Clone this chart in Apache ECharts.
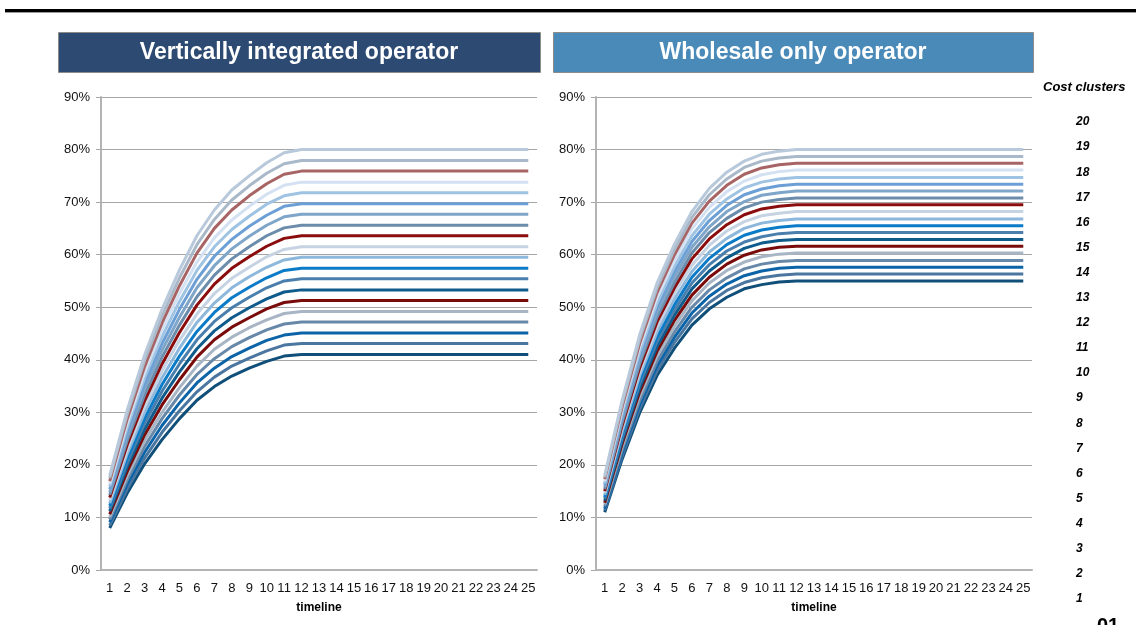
<!DOCTYPE html>
<html>
<head>
<meta charset="utf-8">
<script src="https://cdn.jsdelivr.net/npm/echarts@6/dist/echarts.min.js"></script>
<style>
  html, body { margin: 0; padding: 0; background: #fff; }
  #chart { width: 1136px; height: 625px; }
</style>
</head>
<body>
<div id="chart"></div>
<script>
// timeline categories and legend labels
const timeline = ['1','2','3','4','5','6','7','8','9','10','11','12','13','14','15','16','17','18','19','20','21','22','23','24','25'];
const clusterNames = ['20','19','18','17','16','15','14','13','12','11','10','9','8','7','6','5','4','3','2','1'];

// Vertically integrated operator, cost clusters 1..20 (%)
const vi1  = [8.0,14.6,20.2,24.8,28.8,32.3,34.9,36.9,38.4,39.7,40.7,41.0,41.0,41.0,41.0,41.0,41.0,41.0,41.0,41.0,41.0,41.0,41.0,41.0,41.0];
const vi2  = [8.5,15.4,21.3,26.2,30.3,33.9,36.7,38.8,40.3,41.7,42.8,43.1,43.1,43.1,43.1,43.1,43.1,43.1,43.1,43.1,43.1,43.1,43.1,43.1,43.1];
const vi3  = [9.1,16.3,22.4,27.5,31.8,35.6,38.4,40.6,42.2,43.7,44.7,45.1,45.1,45.1,45.1,45.1,45.1,45.1,45.1,45.1,45.1,45.1,45.1,45.1,45.1];
const vi4  = [9.6,17.1,23.5,28.8,33.3,37.2,40.2,42.5,44.2,45.7,46.8,47.2,47.2,47.2,47.2,47.2,47.2,47.2,47.2,47.2,47.2,47.2,47.2,47.2,47.2];
const vi5  = [10.1,17.9,24.6,30.0,34.7,38.8,42.0,44.3,46.1,47.6,48.8,49.2,49.2,49.2,49.2,49.2,49.2,49.2,49.2,49.2,49.2,49.2,49.2,49.2,49.2];
const vi6  = [10.6,18.7,25.7,31.4,36.2,40.5,43.8,46.2,48.0,49.7,50.9,51.3,51.3,51.3,51.3,51.3,51.3,51.3,51.3,51.3,51.3,51.3,51.3,51.3,51.3];
const vi7  = [11.2,19.6,26.8,32.7,37.7,42.1,45.5,48.0,49.9,51.6,52.9,53.3,53.3,53.3,53.3,53.3,53.3,53.3,53.3,53.3,53.3,53.3,53.3,53.3,53.3];
const vi8  = [11.7,20.4,27.9,34.0,39.2,43.8,47.3,49.9,51.9,53.7,55.0,55.4,55.4,55.4,55.4,55.4,55.4,55.4,55.4,55.4,55.4,55.4,55.4,55.4,55.4];
const vi9  = [12.2,21.2,28.9,35.3,40.7,45.4,49.0,51.8,53.8,55.6,57.0,57.4,57.4,57.4,57.4,57.4,57.4,57.4,57.4,57.4,57.4,57.4,57.4,57.4,57.4];
const vi10 = [12.7,22.1,30.0,36.6,42.2,47.1,50.8,53.7,55.8,57.6,59.0,59.5,59.5,59.5,59.5,59.5,59.5,59.5,59.5,59.5,59.5,59.5,59.5,59.5,59.5];
const vi11 = [13.3,22.9,31.1,37.9,43.7,48.7,52.6,55.5,57.6,59.6,61.0,61.5,61.5,61.5,61.5,61.5,61.5,61.5,61.5,61.5,61.5,61.5,61.5,61.5,61.5];
const vi12 = [13.8,23.8,32.2,39.2,45.2,50.4,54.4,57.4,59.6,61.6,63.1,63.6,63.6,63.6,63.6,63.6,63.6,63.6,63.6,63.6,63.6,63.6,63.6,63.6,63.6];
const vi13 = [14.3,24.6,33.3,40.5,46.6,52.0,56.1,59.2,61.5,63.6,65.1,65.6,65.6,65.6,65.6,65.6,65.6,65.6,65.6,65.6,65.6,65.6,65.6,65.6,65.6];
const vi14 = [14.8,25.4,34.4,41.8,48.1,53.7,57.9,61.1,63.5,65.6,67.2,67.7,67.7,67.7,67.7,67.7,67.7,67.7,67.7,67.7,67.7,67.7,67.7,67.7,67.7];
const vi15 = [15.4,26.3,35.5,43.1,49.6,55.3,59.7,62.9,65.4,67.5,69.2,69.7,69.7,69.7,69.7,69.7,69.7,69.7,69.7,69.7,69.7,69.7,69.7,69.7,69.7];
const vi16 = [15.9,27.1,36.6,44.4,51.1,57.0,61.5,64.8,67.3,69.6,71.2,71.8,71.8,71.8,71.8,71.8,71.8,71.8,71.8,71.8,71.8,71.8,71.8,71.8,71.8];
const vi17 = [16.4,27.9,37.6,45.7,52.6,58.6,63.2,66.6,69.2,71.5,73.2,73.8,73.8,73.8,73.8,73.8,73.8,73.8,73.8,73.8,73.8,73.8,73.8,73.8,73.8];
const vi18 = [16.9,28.7,38.7,47.0,54.1,60.3,65.0,68.5,71.2,73.5,75.3,75.9,75.9,75.9,75.9,75.9,75.9,75.9,75.9,75.9,75.9,75.9,75.9,75.9,75.9];
const vi19 = [17.5,29.6,39.9,48.3,55.6,61.9,66.7,70.4,73.1,75.5,77.3,77.9,77.9,77.9,77.9,77.9,77.9,77.9,77.9,77.9,77.9,77.9,77.9,77.9,77.9];
const vi20 = [18.0,30.4,40.9,49.6,57.1,63.6,68.5,72.3,75.0,77.5,79.4,80.0,80.0,80.0,80.0,80.0,80.0,80.0,80.0,80.0,80.0,80.0,80.0,80.0,80.0];

// Wholesale only operator, cost clusters 1..20 (%)
const wo1  = [11.0,21.1,29.9,37.0,42.2,46.6,49.7,51.9,53.5,54.3,54.8,55.0,55.0,55.0,55.0,55.0,55.0,55.0,55.0,55.0,55.0,55.0,55.0,55.0,55.0];
const wo2  = [11.4,21.7,30.7,37.9,43.3,47.8,50.9,53.2,54.7,55.6,56.1,56.3,56.3,56.3,56.3,56.3,56.3,56.3,56.3,56.3,56.3,56.3,56.3,56.3,56.3];
const wo3  = [11.7,22.3,31.4,38.8,44.3,48.9,52.1,54.4,56.0,56.9,57.4,57.6,57.6,57.6,57.6,57.6,57.6,57.6,57.6,57.6,57.6,57.6,57.6,57.6,57.6];
const wo4  = [12.1,22.9,32.2,39.7,45.3,50.0,53.3,55.6,57.3,58.2,58.7,58.9,58.9,58.9,58.9,58.9,58.9,58.9,58.9,58.9,58.9,58.9,58.9,58.9,58.9];
const wo5  = [12.5,23.5,33.1,40.7,46.4,51.2,54.6,57.0,58.6,59.6,60.1,60.3,60.3,60.3,60.3,60.3,60.3,60.3,60.3,60.3,60.3,60.3,60.3,60.3,60.3];
const wo6  = [12.8,24.0,33.8,41.6,47.5,52.3,55.7,58.2,59.9,60.9,61.4,61.6,61.6,61.6,61.6,61.6,61.6,61.6,61.6,61.6,61.6,61.6,61.6,61.6,61.6];
const wo7  = [13.2,24.6,34.6,42.5,48.5,53.5,56.9,59.4,61.2,62.2,62.7,62.9,62.9,62.9,62.9,62.9,62.9,62.9,62.9,62.9,62.9,62.9,62.9,62.9,62.9];
const wo8  = [13.6,25.2,35.4,43.5,49.5,54.6,58.1,60.7,62.4,63.4,64.0,64.2,64.2,64.2,64.2,64.2,64.2,64.2,64.2,64.2,64.2,64.2,64.2,64.2,64.2];
const wo9  = [13.9,25.8,36.1,44.3,50.5,55.7,59.3,61.9,63.7,64.7,65.2,65.5,65.5,65.5,65.5,65.5,65.5,65.5,65.5,65.5,65.5,65.5,65.5,65.5,65.5];
const wo10 = [14.3,26.4,36.9,45.3,51.6,56.8,60.5,63.1,65.0,66.0,66.5,66.8,66.8,66.8,66.8,66.8,66.8,66.8,66.8,66.8,66.8,66.8,66.8,66.8,66.8];
const wo11 = [14.7,27.0,37.7,46.3,52.7,58.0,61.8,64.5,66.3,67.4,67.9,68.2,68.2,68.2,68.2,68.2,68.2,68.2,68.2,68.2,68.2,68.2,68.2,68.2,68.2];
const wo12 = [15.0,27.5,38.4,47.2,53.7,59.2,63.0,65.7,67.6,68.7,69.2,69.5,69.5,69.5,69.5,69.5,69.5,69.5,69.5,69.5,69.5,69.5,69.5,69.5,69.5];
const wo13 = [15.4,28.1,39.2,48.1,54.7,60.3,64.2,66.9,68.9,70.0,70.5,70.8,70.8,70.8,70.8,70.8,70.8,70.8,70.8,70.8,70.8,70.8,70.8,70.8,70.8];
const wo14 = [15.8,28.8,40.0,49.0,55.8,61.4,65.3,68.2,70.1,71.3,71.8,72.1,72.1,72.1,72.1,72.1,72.1,72.1,72.1,72.1,72.1,72.1,72.1,72.1,72.1];
const wo15 = [16.2,29.4,40.8,50.0,56.8,62.5,66.5,69.4,71.4,72.5,73.1,73.4,73.4,73.4,73.4,73.4,73.4,73.4,73.4,73.4,73.4,73.4,73.4,73.4,73.4];
const wo16 = [16.5,29.9,41.5,50.8,57.8,63.6,67.7,70.6,72.7,73.8,74.4,74.7,74.7,74.7,74.7,74.7,74.7,74.7,74.7,74.7,74.7,74.7,74.7,74.7,74.7];
const wo17 = [16.9,30.5,42.4,51.8,58.9,64.9,69.0,72.0,74.0,75.2,75.8,76.1,76.1,76.1,76.1,76.1,76.1,76.1,76.1,76.1,76.1,76.1,76.1,76.1,76.1];
const wo18 = [17.3,31.1,43.1,52.8,60.0,66.0,70.2,73.2,75.3,76.5,77.1,77.4,77.4,77.4,77.4,77.4,77.4,77.4,77.4,77.4,77.4,77.4,77.4,77.4,77.4];
const wo19 = [17.6,31.7,43.9,53.7,61.0,67.1,71.4,74.4,76.6,77.8,78.4,78.7,78.7,78.7,78.7,78.7,78.7,78.7,78.7,78.7,78.7,78.7,78.7,78.7,78.7];
const wo20 = [18.0,32.3,44.7,54.6,62.0,68.2,72.6,75.7,77.8,79.1,79.7,80.0,80.0,80.0,80.0,80.0,80.0,80.0,80.0,80.0,80.0,80.0,80.0,80.0,80.0];

const viSeries = [vi1,vi2,vi3,vi4,vi5,vi6,vi7,vi8,vi9,vi10,vi11,vi12,vi13,vi14,vi15,vi16,vi17,vi18,vi19,vi20];
const woSeries = [wo1,wo2,wo3,wo4,wo5,wo6,wo7,wo8,wo9,wo10,wo11,wo12,wo13,wo14,wo15,wo16,wo17,wo18,wo19,wo20];

// cluster 1 .. 20
const clusterColors = [
  '#0f4f79','#4b76a0','#0c64a8','#6788a8','#a7b5c5',
  '#7a0b0b','#0f5c8c','#4a7fad','#0b7bc8','#8db8db',
  '#c6d3e3','#8b0c0c','#6b8cab','#7fa5c8','#6c9fd5',
  '#9fc3e3','#d3e1f2','#a86464','#a9b9c9','#b8c9db'
];

const FONT = '"Liberation Sans", Arial, sans-serif';
const chart = echarts.init(document.getElementById('chart'));

const makeX = (gridIndex) => ({
  type: 'category',
  gridIndex,
  data: timeline,
  name: 'timeline',
  nameLocation: 'middle',
  nameGap: 32,
  nameTextStyle: { fontFamily: FONT, fontSize: 12, fontWeight: 'bold', color: '#000' },
  axisLine: { lineStyle: { color: '#b4b4b4', width: 2 } },
  axisTick: { show: false },
  axisLabel: { interval: 0, fontFamily: FONT, fontSize: 13, color: '#111', margin: 12 }
});

const makeY = (gridIndex) => ({
  type: 'value',
  gridIndex,
  min: 0,
  max: 90,
  interval: 10,
  axisLine: { show: true, lineStyle: { color: '#b4b4b4', width: 2 } },
  axisTick: { show: true, length: 5, lineStyle: { color: '#a6a6a6' } },
  axisLabel: { formatter: '{value}%', fontFamily: FONT, fontSize: 13, color: '#111', margin: 11 },
  splitLine: { lineStyle: { color: '#a6a6a6', width: 1 } }
});

const series = [];
viSeries.forEach((d, i) => {
  series.push({
    name: String(i + 1), type: 'line', xAxisIndex: 0, yAxisIndex: 0, data: d,
    showSymbol: false, lineStyle: { width: 3, color: clusterColors[i] },
    itemStyle: { color: clusterColors[i] }
  });
});
woSeries.forEach((d, i) => {
  series.push({
    name: String(i + 1), type: 'line', xAxisIndex: 1, yAxisIndex: 1, data: d,
    showSymbol: false, lineStyle: { width: 3, color: clusterColors[i] },
    itemStyle: { color: clusterColors[i] }
  });
});

const option = {
  backgroundColor: '#fff',
  animation: false,
  grid: [
    { left: 101, top: 97, width: 436, height: 473 },
    { left: 596, top: 97, width: 436, height: 473 }
  ],
  xAxis: [makeX(0), makeX(1)],
  yAxis: [makeY(0), makeY(1)],
  legend: {
    data: clusterNames,
    orient: 'vertical',
    left: 1066,
    top: 110,
    icon: 'none',
    itemWidth: 0,
    itemHeight: 14,
    itemGap: 12.1,
    selectedMode: false,
    textStyle: { fontFamily: FONT, fontSize: 12, fontWeight: 'bold', fontStyle: 'italic', color: '#000' }
  },
  graphic: [
    { type: 'rect', left: 5, top: 9, shape: { width: 1131, height: 3 }, style: { fill: '#000' } },
    { type: 'rect', left: 5, top: 12, shape: { width: 1131, height: 1 }, style: { fill: '#9a9a9a' } },
    { type: 'rect', left: 58, top: 32, shape: { width: 482, height: 40 },
      style: { fill: '#2c4a72', stroke: '#8c8c8c', lineWidth: 1 } },
    { type: 'text', x: 299, y: 53,
      style: { text: 'Vertically integrated operator', fill: '#fff', font: 'bold 23px ' + FONT,
               textAlign: 'center', textVerticalAlign: 'middle' } },
    { type: 'rect', left: 553, top: 32, shape: { width: 480, height: 40 },
      style: { fill: '#4a8ab8', stroke: '#8c8c8c', lineWidth: 1 } },
    { type: 'text', x: 793, y: 53,
      style: { text: 'Wholesale only operator', fill: '#fff', font: 'bold 23px ' + FONT,
               textAlign: 'center', textVerticalAlign: 'middle' } },
    { type: 'text', left: 1043, top: 81,
      style: { text: 'Cost clusters', fill: '#000', font: 'italic bold 13px ' + FONT } },
    { type: 'text', left: 1097, top: 616,
      style: { text: '01', fill: '#000', font: 'bold 20px ' + FONT } }
  ],
  series
};

chart.setOption(option);
</script>
</body>
</html>
